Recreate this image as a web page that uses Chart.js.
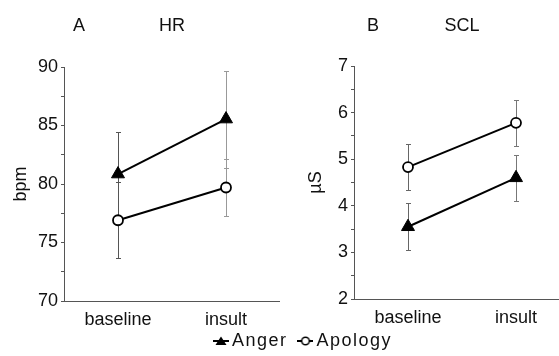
<!DOCTYPE html>
<html>
<head>
<meta charset="utf-8">
<script src="https://cdn.jsdelivr.net/npm/chart.js@4/dist/chart.umd.min.js"></script>
<style>
html,body{margin:0;padding:0;background:#fff;overflow:hidden;}
#wrap{position:relative;width:559px;height:356px;overflow:hidden;background:#fff;}
#wrap canvas{position:absolute;}
#cA{left:0;top:0;}
#cB{left:280px;top:0;}
#cL{left:0;top:316px;}
</style>
</head>
<body>
<div id="wrap">
  <canvas id="cA" width="280" height="356" style="width:280px;height:356px"></canvas>
  <canvas id="cB" width="290" height="356" style="width:290px;height:356px"></canvas>
  <canvas id="cL" width="559" height="80" style="width:559px;height:80px"></canvas>
</div>
<script>
// ---- data ----
const categories = ['baseline', 'insult'];
const seriesNames = ['Anger', 'Apology'];

const hrAnger = [80.85, 85.55];
const hrAngerErr = [3.6, 4.15];
const hrApology = [76.9, 79.7];
const hrApologyErr = [3.25, 2.4];
const hrTickLabels = [70, 75, 80, 85, 90];

const sclAnger = [3.55, 4.6];
const sclAngerErr = [0.5, 0.5];
const sclApology = [4.83, 5.78];
const sclApologyErr = [0.49, 0.49];
const sclTickLabels = [2, 3, 4, 5, 6, 7];

const FONT = "'Liberation Sans', Arial, Helvetica, sans-serif";
const FS = 18;
Chart.defaults.font.family = FONT;
Chart.defaults.font.size = FS;
Chart.defaults.color = '#111';

// error bars drawn through the chart scales
const errorBarPlugin = {
  id: 'errorBars',
  beforeDatasetsDraw(chart, args, opts) {
    const ctx = chart.ctx, xs = chart.scales.x, ys = chart.scales.y;
    chart.data.datasets.forEach(ds => {
      if (!ds.errors) return;
      ds.data.forEach((v, j) => {
        const e = ds.errors[j];
        const cx = Math.round(xs.getPixelForValue(j)) + 0.5;
        const top = Math.round(ys.getPixelForValue(v + e)) + 0.5;
        const bot = Math.round(ys.getPixelForValue(v - e)) + 0.5;
        ctx.save();
        ctx.strokeStyle = opts.colors[j];
        ctx.lineWidth = 1;
        ctx.beginPath();
        ctx.moveTo(cx, top); ctx.lineTo(cx, bot);
        ctx.moveTo(cx - opts.cap, top); ctx.lineTo(cx + opts.cap, top);
        ctx.moveTo(cx - opts.cap, bot); ctx.lineTo(cx + opts.cap, bot);
        ctx.stroke();
        ctx.restore();
      });
    });
  }
};

// panel letter drawn on the title line
const panelLetterPlugin = {
  id: 'panelLetter',
  afterDraw(chart, args, opts) {
    const t = chart.options.plugins.title;
    const tb = chart.titleBlock;
    const y = tb.top + t.padding.top + t.font.size * 1.2 / 2;
    const ctx = chart.ctx;
    ctx.save();
    ctx.font = 'normal ' + FS + 'px ' + FONT;
    ctx.fillStyle = '#111';
    ctx.textBaseline = 'middle';
    ctx.textAlign = 'left';
    ctx.fillText(opts.text, chart.chartArea.left + opts.dx, y);
    ctx.restore();
  }
};

function makePanel(id, c) {
  return new Chart(document.getElementById(id), {
    type: 'line',
    data: {
      labels: categories,
      datasets: [
        { label: seriesNames[0], data: c.anger, errors: c.angerErr,
          pointStyle: 'triangle', pointRadius: 7.5, pointBackgroundColor: '#000',
          pointBorderColor: '#000', pointBorderWidth: 1, borderColor: '#000', borderWidth: 2 },
        { label: seriesNames[1], data: c.apology, errors: c.apologyErr,
          pointStyle: 'circle', pointRadius: 5, pointBackgroundColor: '#fff',
          pointBorderColor: '#000', pointBorderWidth: 1.8, borderColor: '#000', borderWidth: 2 }
      ]
    },
    options: {
      responsive: false, animation: false, devicePixelRatio: 1,
      layout: { padding: 0, autoPadding: false },
      plugins: {
        legend: { display: false },
        tooltip: { enabled: false },
        title: { display: true, text: c.title, fullSize: false, align: 'center', color: '#111',
                 font: { size: FS, weight: 'normal' }, padding: { top: 15, bottom: c.titleBottom } },
        panelLetter: { text: c.letter, dx: c.letterDx },
        errorBars: { colors: c.errColors, cap: 2.5 }
      },
      scales: {
        x: {
          type: 'category', offset: true,
          grid: { display: false },
          border: { display: true, color: '#555', width: 1 },
          ticks: { color: '#111', font: { size: FS }, padding: 0, maxRotation: 0 },
          afterFit: s => { s.height = c.xAxisHeight; s.paddingLeft = 0; s.paddingRight = 0; }
        },
        y: {
          type: 'linear', min: c.ticks[0], max: c.ticks[c.ticks.length - 1],
          ticks: { stepSize: c.step, autoSkip: false, color: '#111', font: { size: FS }, padding: 3,
                   callback: v => c.ticks.includes(v) ? String(v) : '' },
          grid: { display: true, drawOnChartArea: false, drawTicks: true, tickLength: 3, color: '#555' },
          border: { display: true, color: '#555', width: 1 },
          title: { display: true, text: c.unit, color: '#111', font: { size: FS }, padding: { top: c.unitPad, bottom: 0 } },
          afterFit: s => { s.width = c.yAxisWidth; }
        }
      }
    },
    plugins: [errorBarPlugin, panelLetterPlugin]
  });
}

makePanel('cA', {
  anger: hrAnger, angerErr: hrAngerErr, apology: hrApology, apologyErr: hrApologyErr,
  ticks: hrTickLabels, step: 2.5, title: 'HR', letter: 'A', letterDx: 9, unit: 'bpm',
  titleBottom: 30.4, xAxisHeight: 55, yAxisWidth: 64, unitPad: 10, errColors: ['#555', '#999']
});
makePanel('cB', {
  anger: sclAnger, angerErr: sclAngerErr, apology: sclApology, apologyErr: sclApologyErr,
  ticks: sclTickLabels, step: 0.5, title: 'SCL', letter: 'B', letterDx: 13, unit: 'µS',
  titleBottom: 29.4, xAxisHeight: 57, yAxisWidth: 74, unitPad: 25, errColors: ['#666', '#777']
});

// ---- legend ----
function swatch(kind) {
  const cv = document.createElement('canvas');
  cv.width = 16; cv.height = 12;
  const g = cv.getContext('2d');
  g.strokeStyle = '#000'; g.lineWidth = 2;
  g.beginPath(); g.moveTo(0, 6); g.lineTo(16, 6); g.stroke();
  if (kind === 'triangle') {
    g.fillStyle = '#000';
    g.beginPath(); g.moveTo(8, 1.5); g.lineTo(13.5, 10); g.lineTo(2.5, 10); g.closePath(); g.fill();
  } else {
    g.fillStyle = '#fff'; g.lineWidth = 1.5;
    g.beginPath(); g.arc(8, 6, 3.8, 0, Math.PI * 2); g.fill(); g.stroke();
  }
  return cv;
}
const swatches = [swatch('triangle'), swatch('circle')];

const spacingPlugin = {
  id: 'letterSpacing',
  beforeLayout(chart) { chart.ctx.letterSpacing = '1.5px'; },
  beforeDraw(chart) { chart.ctx.letterSpacing = '1.5px'; }
};

new Chart(document.getElementById('cL'), {
  type: 'line',
  data: {
    labels: categories,
    datasets: seriesNames.map((n, i) => ({ label: n, data: [], pointStyle: swatches[i] }))
  },
  options: {
    responsive: false, animation: false, devicePixelRatio: 1,
    layout: { padding: { left: 52, right: 0, top: 0, bottom: 0 } },
    scales: { x: { display: false }, y: { display: false } },
    plugins: {
      tooltip: { enabled: false },
      legend: {
        display: true, position: 'top', align: 'center',
        labels: {
          usePointStyle: true, boxWidth: 4, boxHeight: 12, padding: 16,
          color: '#111', font: { size: FS, family: FONT },
          generateLabels: chart => seriesNames.map((n, i) => ({
            text: n, pointStyle: swatches[i], fillStyle: '#000', strokeStyle: '#000',
            lineWidth: 0, hidden: false, datasetIndex: i, fontColor: '#111'
          }))
        }
      }
    }
  },
  plugins: [spacingPlugin]
});
</script>
</body>
</html>
